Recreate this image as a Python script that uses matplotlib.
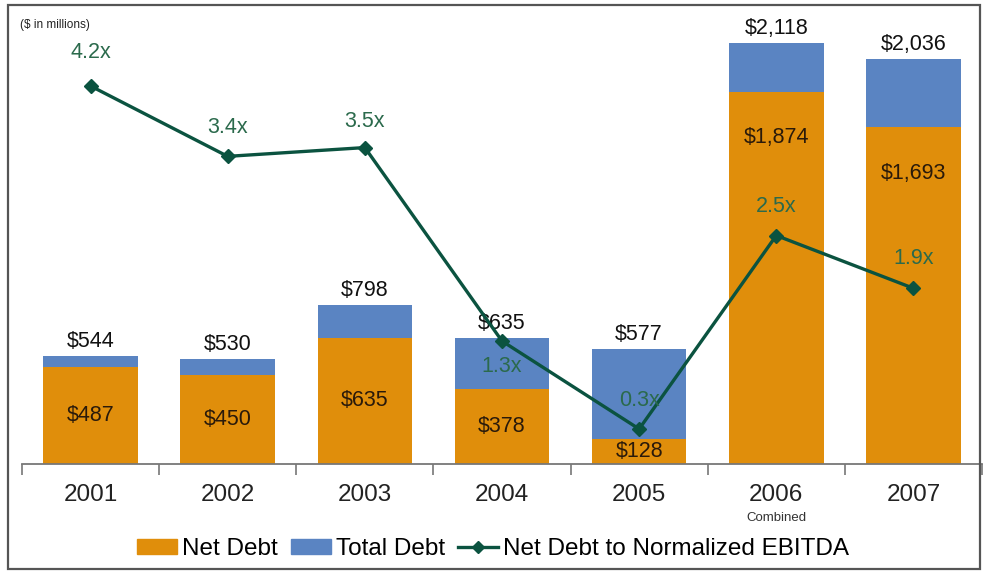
import matplotlib
matplotlib.use("Agg")
import matplotlib.pyplot as plt
from matplotlib.patches import Rectangle
from matplotlib.lines import Line2D
import numpy as np

plt.rcParams['font.family'] = ['Liberation Sans', 'DejaVu Sans']

years = ["2001", "2002", "2003", "2004", "2005", "2006", "2007"]
net_debt = [487, 450, 635, 378, 128, 1874, 1693]
total_debt = [544, 530, 798, 635, 577, 2118, 2036]
leverage = [4.2, 3.4, 3.5, 1.3, 0.3, 2.5, 1.9]

ORANGE = "#E08E0B"
BLUE = "#5A84C2"
GREEN_LINE = "#0B5340"
GREEN_TEXT = "#2B6A4C"

W, H = 986, 572
fig = plt.figure(figsize=(W / 100, H / 100), dpi=100)

# axes placement in pixel terms
ax_l, ax_r, ax_b, ax_t = 22, 982, 464, 8
ax = fig.add_axes([ax_l / W, 1 - ax_b / H, (ax_r - ax_l) / W, (ax_b - ax_t) / H])

x = np.arange(len(years))
bar_w = 0.69
upper = [t - n for t, n in zip(total_debt, net_debt)]

ax.bar(x, net_debt, width=bar_w, color=ORANGE, zorder=2)
ax.bar(x, upper, bottom=net_debt, width=bar_w, color=BLUE, zorder=2)

px_per_unit = 2118 / (464 - 43)
ax.set_ylim(0, (ax_b - ax_t) * px_per_unit)
ax.set_xlim(-0.5, len(years) - 0.5)

for xi, n, t in zip(x, net_debt, total_debt):
    ax.text(xi, t + 20, f"${t:,}", ha="center", va="bottom", fontsize=15.5,
            color="#111111", zorder=5)
    # net debt label: centred in short bars, near the top in tall ones
    y_lab = n / 2 if n < 1000 else n - 230
    ax.text(xi, y_lab, f"${n:,}", ha="center", va="center",
            fontsize=15.5, color="#2a1a0a", zorder=5)

# leverage on a secondary scale
ax2 = ax.twinx()
ppu2 = (429 - 86) / (4.2 - 0.3)
zero_px = 429 + 0.3 * ppu2
ax2.set_ylim((zero_px - ax_b) / ppu2, (zero_px - ax_t) / ppu2)
ax2.plot(x, leverage, color=GREEN_LINE, lw=2.4, marker="D", markersize=7,
         zorder=6)
offsets = [0.38, 0.33, 0.3, -0.29, 0.32, 0.33, 0.34]
for xi, v, off in zip(x, leverage, offsets):
    ax2.text(xi, v + off, f"{v}x", ha="center", va="center", fontsize=15.5,
             color=GREEN_TEXT, zorder=7)
ax2.set_yticks([])
ax2.set_xlim(-0.5, len(years) - 0.5)

for a in (ax, ax2):
    for s in ("top", "right", "left", "bottom"):
        a.spines[s].set_visible(False)
ax.spines["bottom"].set_visible(True)
ax.spines["bottom"].set_color("#777777")
ax.spines["bottom"].set_linewidth(1.3)
ax.set_yticks([])

# category boundaries as tick marks, year labels centered
ax.set_xticks(np.arange(-0.5, len(years), 1.0))
ax.set_xticklabels([])
ax.tick_params(axis="x", direction="out", length=8, width=1.2,
               color="#777777")
for xi, yr in zip(x, years):
    ax.text(xi, -0.068, yr, transform=ax.get_xaxis_transform(), ha="center",
            va="center", fontsize=17.5, color="#222222")
ax.text(5, -0.118, "Combined", transform=ax.get_xaxis_transform(),
        ha="center", va="center", fontsize=9.5, color="#333333")

fig.text(20 / W, 1 - 25 / H, "($ in millions)", fontsize=8.5,
         ha="left", va="center", color="#222222")

# legend
handles = [
    Rectangle((0, 0), 1, 1, color=ORANGE),
    Rectangle((0, 0), 1, 1, color=BLUE),
    Line2D([0], [0], color=GREEN_LINE, lw=2.4, marker="D", markersize=6),
]
fig.legend(handles, ["Net Debt", "Total Debt", "Net Debt to Normalized EBITDA"],
           loc="center", bbox_to_anchor=(493 / W, 1 - 549 / H), ncol=3,
           frameon=False, fontsize=17.5, handlelength=1.65, handleheight=0.6,
           handletextpad=0.2, columnspacing=0.55, borderaxespad=0)

# outer frame
fig.patches.append(Rectangle((8 / W, 1 - 569 / H), (980 - 8) / W,
                             (569 - 5) / H, transform=fig.transFigure,
                             fill=False, edgecolor="#555555", lw=1.6))

fig.savefig("out.png", dpi=100)
